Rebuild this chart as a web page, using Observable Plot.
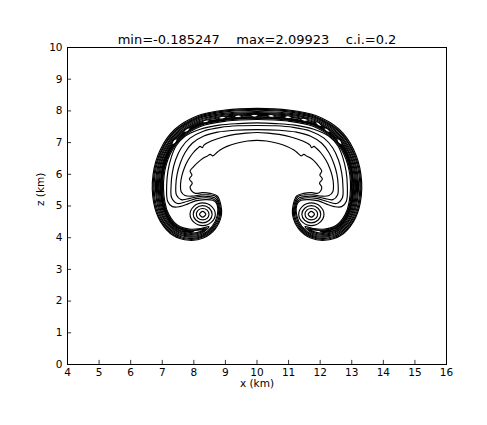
<!DOCTYPE html>
<html><head><meta charset="utf-8">
<script src="https://cdn.jsdelivr.net/npm/d3@7"></script>
<script src="https://cdn.jsdelivr.net/npm/@observablehq/plot@0.6"></script>
<style>
body{margin:0;background:#fff;}
svg text{white-space:pre;}
</style></head><body><div id="chart"></div>
<script>
// axis ticks and labels
const xTicks = [4,5,6,7,8,9,10,11,12,13,14,15,16];
const zTicks = [0,1,2,3,4,5,6,7,8,9,10];
const titleText = "min=-0.185247    max=2.09923    c.i.=0.2";
const xLabel = "x (km)";
const zLabel = "z (km)";

// contour 0.2 (x km, z km), closed
const theta02 = [[10.00,8.08],
[9.00,8.03],[8.10,7.84],[7.40,7.42],[6.95,6.80],[6.71,6.00],[6.73,5.10],[6.95,4.50],[7.35,4.07],[7.85,3.92],[8.30,3.99],[8.68,4.28],[8.87,4.70],[8.84,5.10],
[8.74,5.32],[8.52,5.40],[8.27,5.42],[8.05,5.40],[7.93,5.48],
[7.88,5.60],[7.95,5.72],[7.86,5.85],[7.94,5.98],[7.88,6.10],[7.98,6.23],[8.12,6.37],[8.28,6.50],[8.42,6.57],[8.52,6.63],[8.60,6.58],[8.70,6.66],[8.82,6.76],[9.05,6.88],[9.35,6.98],[9.70,7.05],
[10.00,7.07],
[10.30,7.05],[10.65,6.98],[10.95,6.88],[11.18,6.76],[11.30,6.66],[11.40,6.58],[11.48,6.63],[11.58,6.57],[11.72,6.50],[11.86,6.37],[11.97,6.23],[12.05,6.10],[11.99,5.98],[12.07,5.85],[11.98,5.72],[12.05,5.60],
[12.02,5.48],[11.93,5.40],[11.73,5.42],[11.48,5.40],[11.26,5.32],
[11.16,5.10],[11.13,4.70],[11.32,4.28],[11.70,3.99],[12.15,3.92],[12.65,4.07],[13.05,4.50],[13.27,5.10],[13.29,6.00],[13.05,6.80],[12.60,7.42],[11.90,7.84],[11.00,8.03]];

const theta04 = [[10.00,8.05],
[9.00,8.00],[8.11,7.81],[7.42,7.39],[6.98,6.78],[6.74,6.00],[6.76,5.10],[6.97,4.52],[7.36,4.10],[7.85,3.95],[8.29,4.02],[8.66,4.30],[8.84,4.70],[8.81,5.09],
[8.70,5.30],[8.48,5.35],[8.22,5.35],[7.95,5.31],[7.72,5.33],[7.60,5.45],
[7.58,5.70],[7.62,5.95],[7.70,6.20],[7.82,6.45],[7.98,6.68],[8.12,6.82],[8.20,6.88],[8.27,6.84],[8.32,6.92],[8.55,7.05],[8.90,7.17],[9.30,7.26],[9.65,7.30],
[10.00,7.32],
[10.35,7.30],[10.70,7.26],[11.10,7.17],[11.45,7.05],[11.68,6.92],[11.73,6.84],[11.80,6.88],[11.88,6.82],[12.02,6.68],[12.18,6.45],[12.30,6.20],[12.38,5.95],[12.42,5.70],
[12.40,5.45],[12.28,5.33],[12.05,5.31],[11.78,5.35],[11.52,5.35],[11.30,5.30],
[11.19,5.09],[11.16,4.70],[11.34,4.30],[11.71,4.02],[12.15,3.95],[12.64,4.10],[13.03,4.52],[13.24,5.10],[13.26,6.00],[13.02,6.78],[12.58,7.39],[11.89,7.81],[11.00,8.00]];

const theta06 = [[10.00,8.02],
[9.00,7.97],[8.12,7.78],[7.44,7.37],[7.00,6.77],[6.77,5.99],[6.79,5.11],[7.00,4.54],[7.38,4.13],[7.85,3.98],[8.28,4.05],[8.63,4.32],[8.81,4.70],[8.78,5.09],
[8.66,5.26],[8.45,5.30],[8.18,5.30],[7.88,5.24],[7.60,5.20],[7.45,5.35],
[7.43,5.65],[7.47,6.00],[7.57,6.35],[7.72,6.68],[7.95,6.98],[8.30,7.20],[8.75,7.33],[9.30,7.39],
[10.00,7.41],
[10.70,7.39],[11.25,7.33],[11.70,7.20],[12.05,6.98],[12.28,6.68],[12.43,6.35],[12.53,6.00],[12.57,5.65],
[12.55,5.35],[12.40,5.20],[12.12,5.24],[11.82,5.30],[11.55,5.30],[11.34,5.26],
[11.22,5.09],[11.19,4.70],[11.37,4.32],[11.72,4.05],[12.15,3.98],[12.62,4.13],[13.00,4.54],[13.21,5.11],[13.23,5.99],[13.00,6.77],[12.56,7.37],[11.88,7.78],[11.00,7.97]];

const theta08 = [[10.00,7.98],
[9.00,7.93],[8.13,7.75],[7.46,7.34],[7.03,6.75],[6.81,5.99],[6.83,5.11],[7.02,4.56],[7.39,4.16],[7.85,4.02],[8.27,4.08],[8.61,4.34],[8.77,4.70],[8.75,5.08],
[8.62,5.22],[8.40,5.26],[8.12,5.24],[7.80,5.15],[7.48,5.08],[7.30,5.25],
[7.28,5.65],[7.32,6.05],[7.42,6.45],[7.60,6.83],[7.88,7.14],[8.30,7.36],[8.85,7.48],[9.40,7.53],
[10.00,7.54],
[10.60,7.53],[11.15,7.48],[11.70,7.36],[12.12,7.14],[12.40,6.83],[12.58,6.45],[12.68,6.05],[12.72,5.65],
[12.70,5.25],[12.52,5.08],[12.20,5.15],[11.88,5.24],[11.60,5.26],[11.38,5.22],
[11.25,5.08],[11.23,4.70],[11.39,4.34],[11.73,4.08],[12.15,4.02],[12.61,4.16],[12.98,4.56],[13.17,5.11],[13.19,5.99],[12.97,6.75],[12.54,7.34],[11.87,7.75],[11.00,7.93]];

const theta10 = [[10.00,7.95],
[9.00,7.90],[8.14,7.72],[7.48,7.32],[7.06,6.74],[6.84,5.99],[6.86,5.11],[7.05,4.58],[7.40,4.19],[7.85,4.05],[8.26,4.11],[8.58,4.36],[8.74,4.70],[8.72,5.08],
[8.60,5.18],[8.35,5.20],[8.05,5.16],[7.80,5.06],[7.55,4.98],[7.32,4.98],[7.17,5.15],
[7.14,5.65],[7.18,6.10],[7.28,6.52],[7.44,6.90],[7.72,7.20],[8.20,7.42],[8.80,7.55],[9.40,7.60],
[10.00,7.62],
[10.60,7.60],[11.20,7.55],[11.80,7.42],[12.28,7.20],[12.56,6.90],[12.72,6.52],[12.82,6.10],[12.86,5.65],
[12.83,5.15],[12.68,4.98],[12.45,4.98],[12.20,5.06],[11.95,5.16],[11.65,5.20],[11.40,5.18],
[11.28,5.08],[11.26,4.70],[11.42,4.36],[11.74,4.11],[12.15,4.05],[12.60,4.19],[12.95,4.58],[13.14,5.11],[13.16,5.99],[12.94,6.74],[12.52,7.32],[11.86,7.72],[11.00,7.90]];

// cap band pieces of the higher contours
const theta12cap = [[10.00,7.92],
[9.00,7.87],[8.15,7.69],[7.50,7.29],[7.09,6.72],[6.87,5.98],[6.89,5.12],[7.07,4.60],[7.42,4.22],[7.85,4.08],[8.25,4.14],
[8.48,4.35],
[8.22,4.29],[7.85,4.27],[7.49,4.39],[7.21,4.73],[7.08,5.14],[7.06,5.97],[7.25,6.63],[7.61,7.14],[8.21,7.51],[9.02,7.68],
[10.00,7.73],
[10.98,7.68],[11.79,7.51],[12.39,7.14],[12.75,6.63],[12.94,5.97],[12.92,5.14],[12.79,4.73],[12.51,4.39],[12.15,4.27],[11.78,4.29],
[11.52,4.35],
[11.75,4.14],[12.15,4.08],[12.58,4.22],[12.93,4.60],[13.11,5.12],[13.13,5.98],[12.91,6.72],[12.50,7.29],[11.85,7.69],[11.00,7.87]];

const theta14cap = [[10.00,7.89],
[9.00,7.84],[8.16,7.66],[7.51,7.26],[7.11,6.70],[6.90,5.98],[6.92,5.12],[7.09,4.63],[7.43,4.24],[7.85,4.11],[8.24,4.17],
[8.40,4.305],
[8.19,4.26],[7.85,4.24],[7.48,4.36],[7.19,4.71],[7.05,5.13],[7.03,5.97],[7.22,6.64],[7.59,7.16],[8.20,7.54],[9.02,7.71],
[10.00,7.76],
[10.98,7.71],[11.80,7.54],[12.41,7.16],[12.78,6.64],[12.97,5.97],[12.95,5.13],[12.81,4.71],[12.52,4.36],[12.15,4.24],[11.81,4.26],
[11.60,4.305],
[11.76,4.17],[12.15,4.11],[12.57,4.24],[12.91,4.63],[13.08,5.12],[13.10,5.98],[12.89,6.70],[12.49,7.26],[11.84,7.66],[11.00,7.84]];

const theta16cap = [[10.00,7.86],
[9.00,7.81],[8.17,7.63],[7.53,7.24],[7.14,6.69],[6.93,5.98],[6.95,5.12],[7.12,4.65],[7.44,4.27],[7.85,4.14],[8.23,4.20],
[8.34,4.26],
[8.18,4.245],[7.85,4.22],[7.47,4.34],[7.18,4.70],[7.03,5.13],[7.01,5.97],[7.21,6.65],[7.58,7.18],[8.19,7.56],[9.02,7.73],
[10.00,7.78],
[10.98,7.73],[11.81,7.56],[12.42,7.18],[12.79,6.65],[12.99,5.97],[12.97,5.13],[12.82,4.70],[12.53,4.34],[12.15,4.22],[11.82,4.245],
[11.66,4.26],
[11.77,4.20],[12.15,4.14],[12.56,4.27],[12.88,4.65],[13.05,5.12],[13.07,5.98],[12.86,6.69],[12.47,7.24],[11.83,7.63],[11.00,7.81]];

const theta18cap = [[10.00,7.82],
[9.00,7.77],[8.18,7.60],[7.55,7.21],[7.16,6.68],[6.96,5.97],[6.98,5.12],[7.14,4.67],[7.45,4.28],[7.85,4.17],
[8.00,4.19],
[7.85,4.20],[7.46,4.32],[7.16,4.68],[7.01,5.13],[6.99,5.97],[7.19,6.66],[7.57,7.20],[8.18,7.57],[9.01,7.75],
[10.00,7.80],
[10.99,7.75],[11.82,7.57],[12.43,7.20],[12.81,6.66],[13.01,5.97],[12.99,5.13],[12.84,4.68],[12.54,4.32],[12.15,4.20],
[12.00,4.19],
[12.15,4.17],[12.55,4.28],[12.86,4.67],[13.02,5.12],[13.04,5.97],[12.84,6.68],[12.45,7.21],[11.82,7.60],[11.00,7.77]];

// rotor cores (left and right lobes)
const core12L = [[8.68,4.74],[8.56,4.99],[8.28,5.10],[8.00,4.99],[7.88,4.74],[8.00,4.49],[8.28,4.38],[8.56,4.49]];
const core14L = [[8.58,4.74],[8.49,4.93],[8.28,5.01],[8.07,4.93],[7.98,4.74],[8.07,4.55],[8.28,4.47],[8.49,4.55]];
const core16L = [[8.48,4.74],[8.42,4.87],[8.28,4.92],[8.14,4.87],[8.08,4.74],[8.14,4.61],[8.28,4.56],[8.42,4.61]];
const core18L = [[8.38,4.74],[8.28,4.83],[8.18,4.74],[8.28,4.65]];
const core12R = [[11.32,4.74],[11.44,4.99],[11.72,5.10],[12.00,4.99],[12.12,4.74],[12.00,4.49],[11.72,4.38],[11.44,4.49]];
const core14R = [[11.42,4.74],[11.51,4.93],[11.72,5.01],[11.93,4.93],[12.02,4.74],[11.93,4.55],[11.72,4.47],[11.51,4.55]];
const core16R = [[11.52,4.74],[11.58,4.87],[11.72,4.92],[11.86,4.87],[11.92,4.74],[11.86,4.61],[11.72,4.56],[11.58,4.61]];
const core18R = [[11.62,4.74],[11.72,4.83],[11.82,4.74],[11.72,4.65]];

// small 2.0 islands along the cap
const peaks20 = [
 [[7.31,6.93],[7.43,7.00],[7.47,7.13],[7.35,7.06]],
 [[7.67,7.32],[7.80,7.35],[7.89,7.46],[7.76,7.43]],
 [[8.25,7.64],[8.39,7.63],[8.51,7.70],[8.37,7.71]],
 [[8.77,7.77],[8.90,7.74],[9.03,7.80],[8.90,7.83]],
 [[9.27,7.825],[9.40,7.785],[9.53,7.835],[9.40,7.875]],
 [[9.79,7.85],[9.92,7.805],[10.05,7.85],[9.92,7.895]],
 [[10.32,7.845],[10.45,7.795],[10.58,7.835],[10.45,7.885]],
 [[10.85,7.81],[10.98,7.755],[11.11,7.79],[10.98,7.845]],
 [[11.37,7.74],[11.49,7.675],[11.63,7.70],[11.51,7.765]],
 [[11.84,7.65],[11.93,7.54],[12.06,7.51],[11.97,7.62]],
 [[12.33,7.32],[12.20,7.35],[12.11,7.46],[12.24,7.43]],
 [[12.69,6.93],[12.57,7.00],[12.53,7.13],[12.65,7.06]]
];

const pieces = [
 {level:0.2, pts:theta02},{level:0.4, pts:theta04},{level:0.6, pts:theta06},
 {level:0.8, pts:theta08},{level:1.0, pts:theta10},
 {level:1.2, pts:theta12cap},{level:1.4, pts:theta14cap},{level:1.6, pts:theta16cap},{level:1.8, pts:theta18cap},
 {level:1.2, pts:core12L},{level:1.4, pts:core14L},{level:1.6, pts:core16L},{level:1.8, pts:core18L},
 {level:1.2, pts:core12R},{level:1.4, pts:core14R},{level:1.6, pts:core16R},{level:1.8, pts:core18R}
];
const rows = pieces.flatMap((p,i)=>p.pts.map(([x,z])=>({x, z, id:i, level:p.level})));
const peakRows = peaks20.flatMap((pts,i)=>pts.map(([x,z])=>({x, z, id:i})));

const chart = Plot.plot({
  width: 487, height: 425,
  marginLeft: 67, marginRight: 41, marginTop: 47, marginBottom: 61,
  style: {fontFamily: "DejaVu Sans", fontSize: "10.5px", background: "white", color: "black"},
  x: {domain: [4,16]},
  y: {domain: [0,10]},
  marks: [
    Plot.line(rows, {x:"x", y:"z", z:"id", curve:"catmull-rom-closed", stroke:"black", strokeWidth:1.15}),
    Plot.line(peakRows, {x:"x", y:"z", z:"id", curve:"catmull-rom-closed", stroke:"black", fill:"white", strokeWidth:1.1}),
    Plot.ruleX(xTicks, {x: d=>d, y1: 0, y2: 0.13, stroke:"black", strokeWidth:0.8}),
    Plot.ruleY(zTicks, {y: d=>d, x1: 4, x2: 4.13, stroke:"black", strokeWidth:0.8}),
    Plot.frame({stroke:"black", strokeWidth:1}),
    Plot.axisX({ticks: xTicks, tickSize: 0, tickPadding: 4, label: null, tickFormat: d=>String(d)}),
    Plot.axisY({ticks: zTicks, tickSize: 0, tickPadding: 5, label: null, tickFormat: d=>String(d)}),
    Plot.text([titleText], {text: d=>d, frameAnchor:"top", lineAnchor:"bottom", dy:-4, fontSize:13, fill:"black"}),
    Plot.text([xLabel], {text: d=>d, frameAnchor:"bottom", dy:22, fontSize:10.5, fill:"black"}),
    Plot.text([zLabel], {text: d=>d, frameAnchor:"left", dx:-27, rotate:-90, fontSize:10.5, fill:"black"})
  ]
});
document.getElementById("chart").appendChild(chart);
</script></body></html>
